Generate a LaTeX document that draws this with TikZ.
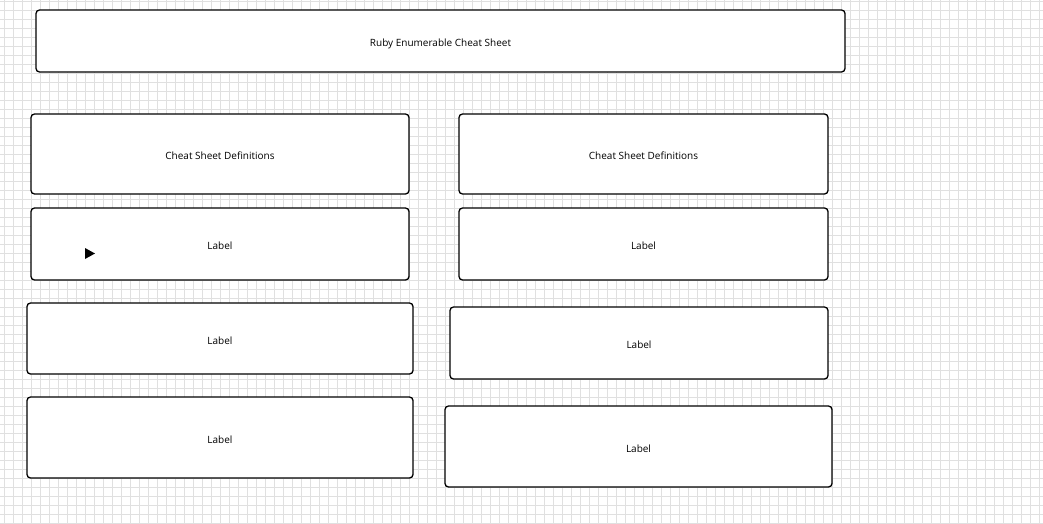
\documentclass[tikz,border=0pt]{standalone}
\usepackage{fontspec}
\setmainfont{Open Sans}
\usepackage{tikz}
\usetikzlibrary{positioning}

\begin{document}
\begin{tikzpicture}[
    x=1pt, y=-1pt,
    every node/.style={font=\fontsize{10}{12}\selectfont},
    gridline/.style={draw=black!12, line width=0.5pt},
    card/.style={rectangle, draw=black, fill=white, rounded corners=3.5pt,
                 line width=1.3pt, align=center, inner sep=0pt,
                 text height=11pt, text depth=0pt},
]

% background grid
\fill[white] (0,0) rectangle (1043,524);
\useasboundingbox (0,0) rectangle (1043,524);
\foreach \gx in {4,13,...,1043} \draw[gridline] (\gx,0) -- (\gx,524);
\foreach \gy in {1,10,...,524} \draw[gridline] (0,\gy) -- (1043,\gy);

% title
\node[card, minimum width=809pt, minimum height=62pt] (title) at (440.5,41) {Ruby Enumerable Cheat Sheet};

% left column
\node[card, minimum width=378pt, minimum height=80pt] (defsL) at (220,154) {Cheat Sheet Definitions};
\node[card, minimum width=378pt, minimum height=72pt] (labelLa) at (220,244) {Label};
\node[card, minimum width=386pt, minimum height=71pt] (labelLb) at (220,338.5) {Label};
\node[card, minimum width=386pt, minimum height=81pt] (labelLc) at (220,437.5) {Label};

% right column
\node[card, minimum width=369pt, minimum height=80pt] (defsR) at (643.5,154) {Cheat Sheet Definitions};
\node[card, minimum width=369pt, minimum height=72pt] (labelRa) at (643.5,244) {Label};
\node[card, minimum width=378pt, minimum height=72pt] (labelRb) at (639,343) {Label};
\node[card, minimum width=387pt, minimum height=81pt] (labelRc) at (638.5,446.5) {Label};

% play marker
\fill[black] (85,248) -- (95,253.5) -- (85,259) -- cycle;

\end{tikzpicture}
\end{document}
